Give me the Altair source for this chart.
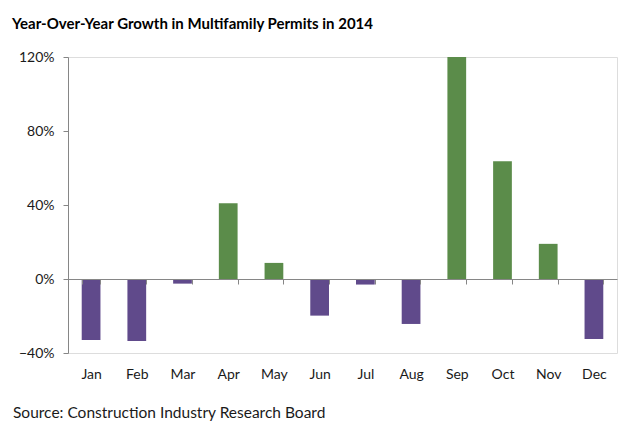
import altair as alt
import pandas as pd

months = ["Jan", "Feb", "Mar", "Apr", "May", "Jun", "Jul", "Aug", "Sep", "Oct", "Nov", "Dec"]
growth = [-0.33, -0.335, -0.025, 0.41, 0.087, -0.198, -0.03, -0.243, 1.20, 0.636, 0.19, -0.324]
y_ticks = [-0.4, 0.0, 0.4, 0.8, 1.2]
title_text = "Year-Over-Year Growth in Multifamily Permits in 2014"
source_text = "Source: Construction Industry Research Board"

df = pd.DataFrame({"month": months, "growth": growth})
df["sign"] = ["pos" if g >= 0 else "neg" for g in growth]

FONT = "Lato"
W, H = 549, 296

bars = alt.Chart(df).mark_bar().encode(
    x=alt.X("month:N", sort=months,
            scale=alt.Scale(paddingInner=0.59, paddingOuter=0.3),
            axis=alt.Axis(title=None, orient="bottom", offset=-74, labelAngle=0,
                          domainColor="#868686", tickColor="#868686", tickSize=5,
                          tickBand="extent", labelPadding=83, labelFont=FONT,
                          labelFontSize=14, labelColor="#1a1a1a", zindex=1)),
    y=alt.Y("growth:Q", scale=alt.Scale(domain=[-0.4, 1.2], nice=False, zero=False),
            axis=alt.Axis(title=None, values=y_ticks, format=".0%", grid=False,
                          domainColor="#868686", tickColor="#868686", tickSize=5,
                          labelPadding=9, labelFont=FONT, labelFontSize=14,
                          labelColor="#1a1a1a", zindex=1)),
    color=alt.Color("sign:N", scale=alt.Scale(domain=["pos", "neg"],
                                              range=["#5B8C4A", "#604A8B"]),
                    legend=None),
)

source = alt.Chart(pd.DataFrame({"t": [source_text]})).mark_text(
    align="left", baseline="alphabetic", font=FONT, fontSize=15.5, color="#1a1a1a"
).encode(text="t:N", x=alt.value(-55), y=alt.value(361))

title = alt.Chart(pd.DataFrame({"t": [title_text]})).mark_text(
    align="left", baseline="alphabetic", font=FONT, fontSize=15, fontWeight="bold",
    color="#000000"
).encode(text="t:N", x=alt.value(-56), y=alt.value(-28))

chart = alt.layer(bars, source, title).properties(
    width=W, height=H,
    autosize=alt.AutoSizeParams(type="none"),
    padding={"left": 60, "top": 49, "right": 15, "bottom": 82},
).configure_view(stroke=None).configure(background="white")

chart.save("out.html", embed_options={"renderer": "svg", "actions": False})
